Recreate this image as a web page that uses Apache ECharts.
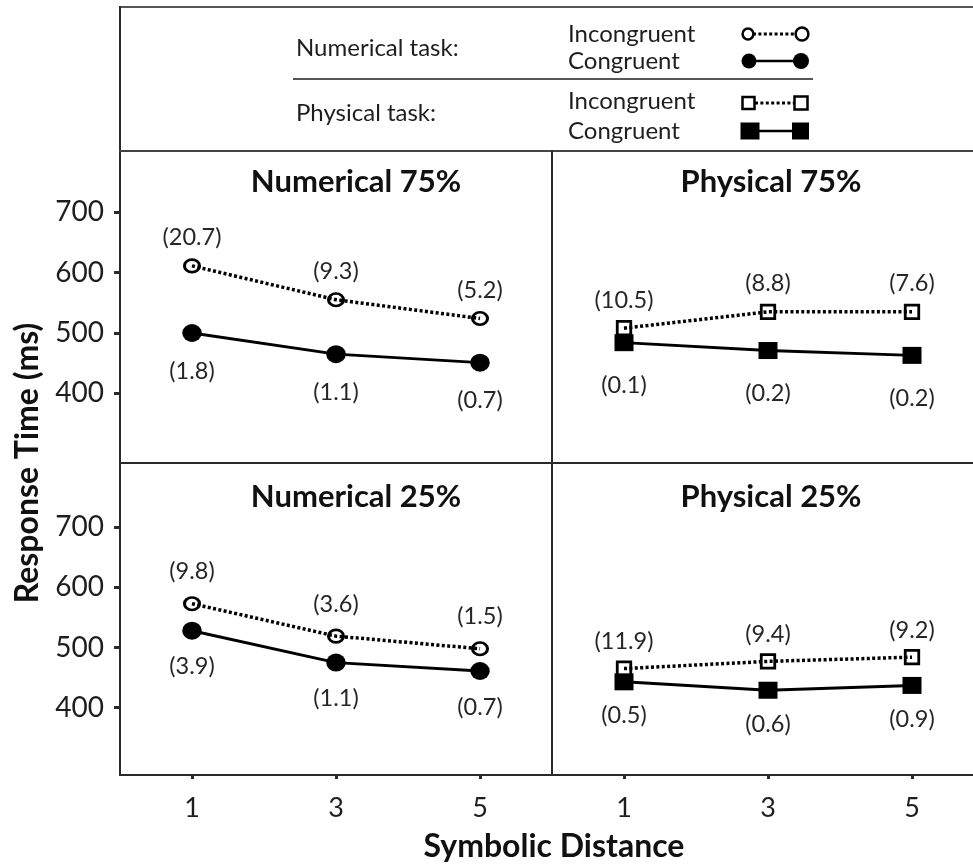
<!DOCTYPE html>
<html>
<head>
<meta charset="utf-8">
<title>Response Time by Symbolic Distance</title>
<script src="https://cdn.jsdelivr.net/npm/echarts@6/dist/echarts.min.js"></script>
<style>
  html, body { margin: 0; padding: 0; background: #fff; }
  #chart { width: 973px; height: 867px; }
</style>
</head>
<body>
<div id="chart"></div>
<script>
// Symbolic distance levels shown on the x axis
const distances = [1, 3, 5];
const xTickValues = [1, 3, 5];
const yTickValues = [400, 500, 600, 700];

// Mean response times (ms) and their values printed in parentheses
const numerical75Incongruent = [611, 555, 524];
const numerical75IncongruentSd = [20.7, 9.3, 5.2];
const numerical75Congruent = [500, 465, 451];
const numerical75CongruentSd = [1.8, 1.1, 0.7];

const physical75Incongruent = [508, 535, 535];
const physical75IncongruentSd = [10.5, 8.8, 7.6];
const physical75Congruent = [484, 471, 463];
const physical75CongruentSd = [0.1, 0.2, 0.2];

const numerical25Incongruent = [573, 519, 498];
const numerical25IncongruentSd = [9.8, 3.6, 1.5];
const numerical25Congruent = [528, 475, 461];
const numerical25CongruentSd = [3.9, 1.1, 0.7];

const physical25Incongruent = [465, 477, 484];
const physical25IncongruentSd = [11.9, 9.4, 9.2];
const physical25Congruent = [443, 429, 437];
const physical25CongruentSd = [0.5, 0.6, 0.9];

const panelTitles = ['Numerical 75%', 'Physical 75%', 'Numerical 25%', 'Physical 25%'];

const FONT = 'Lato, "Open Sans", sans-serif';
const INK = '#1e1e1e';
const FRAME = '#2a2a2a';

const chart = echarts.init(document.getElementById('chart'), null, { renderer: 'canvas' });

// panel layout: two columns, two rows; the right column runs off the page edge
const PANEL_W = 432;
const grids = [
  { left: 120, top: 151, width: PANEL_W, height: 312 },
  { left: 552, top: 151, right: 0, height: 312 },
  { left: 120, top: 463, width: PANEL_W, height: 312 },
  { left: 552, top: 463, right: 0, height: 312 }
].map(g => Object.assign({ show: false, containLabel: false }, g));

// right column keeps the same scale as the left one (0..6 over 432px)
const xMaxes = [6, 6 * (973 - 552) / PANEL_W, 6, 6 * (973 - 552) / PANEL_W];
const yRanges = [[285, 801], [285, 801], [288, 807], [288, 807]];

const xAxes = grids.map((g, i) => {
  const bottom = i >= 2;
  return {
    type: 'value', gridIndex: i, min: 0, max: xMaxes[i],
    show: true,
    axisLine: { show: false },
    splitLine: { show: false },
    axisTick: bottom
      ? { show: true, customValues: xTickValues, length: 4, lineStyle: { color: FRAME, width: 3 } }
      : { show: false },
    axisLabel: bottom
      ? { show: true, customValues: xTickValues, fontSize: 27, color: INK, fontFamily: FONT, margin: 20 }
      : { show: false }
  };
});

const yAxes = grids.map((g, i) => {
  const leftCol = i % 2 === 0;
  return {
    type: 'value', gridIndex: i, min: yRanges[i][0], max: yRanges[i][1],
    show: true,
    axisLine: { show: false },
    splitLine: { show: false },
    axisTick: leftCol
      ? { show: true, customValues: yTickValues, length: 6, lineStyle: { color: FRAME, width: 3 } }
      : { show: false },
    axisLabel: leftCol
      ? { show: true, customValues: yTickValues, fontSize: 28, color: INK, fontFamily: FONT, margin: 16 }
      : { show: false }
  };
});

function pairs(values) {
  return distances.map((d, k) => [d, values[k]]);
}

function makeSeries(panel, values, sd, incongruent, shape, labelDy) {
  const isCircle = shape === 'circle';
  let symbolSize;
  if (incongruent) symbolSize = isCircle ? [15, 12.5] : [13.5, 13.5];
  else symbolSize = isCircle ? [19.5, 18] : [19, 17];
  return {
    type: 'line',
    xAxisIndex: panel, yAxisIndex: panel,
    data: pairs(values),
    symbol: isCircle ? 'circle' : 'rect',
    symbolSize: symbolSize,
    showAllSymbol: true,
    z: incongruent ? 3 : 2,
    lineStyle: incongruent
      ? { color: '#000', width: 3.5, type: [3, 2.4], cap: 'butt' }
      : { color: '#000', width: 2.9 },
    itemStyle: incongruent
      ? { color: 'rgba(255,255,255,0)', borderColor: '#000', borderWidth: 2.8 }
      : { color: '#000', borderWidth: 0 },
    label: {
      show: true,
      position: 'inside',
      offset: [0, labelDy],
      formatter: p => '(' + sd[p.dataIndex].toFixed(1) + ')',
      fontSize: 23.5,
      fontFamily: FONT,
      color: '#262626'
    },
    emphasis: { disabled: true },
    animation: false
  };
}

const series = [
  makeSeries(0, numerical75Incongruent, numerical75IncongruentSd, true, 'circle', -28.5),
  makeSeries(0, numerical75Congruent, numerical75CongruentSd, false, 'circle', 38),
  makeSeries(1, physical75Incongruent, physical75IncongruentSd, true, 'square', -28),
  makeSeries(1, physical75Congruent, physical75CongruentSd, false, 'square', 43),
  makeSeries(2, numerical25Incongruent, numerical25IncongruentSd, true, 'circle', -32),
  makeSeries(2, numerical25Congruent, numerical25CongruentSd, false, 'circle', 36),
  makeSeries(3, physical25Incongruent, physical25IncongruentSd, true, 'square', -27),
  makeSeries(3, physical25Congruent, physical25CongruentSd, false, 'square', 34)
];

// panel headings
const titleCenters = [[356, 182], [771, 182], [356, 497], [771, 497]];
const titleGraphics = panelTitles.map((t, i) => ({
  type: 'text', x: titleCenters[i][0], y: titleCenters[i][1],
  style: { text: t, fontSize: 31, fontWeight: 'bold', fontFamily: FONT, fill: '#111', align: 'center', verticalAlign: 'middle' },
  silent: true
}));

// frame around the key and the four panels (no right edge: it lies past the page)
function frameLine(x1, y1, x2, y2, color) {
  return { type: 'line', shape: { x1: x1, y1: y1, x2: x2, y2: y2 }, style: { stroke: color || FRAME, lineWidth: 2 }, z: 20, silent: true };
}
const frameGraphics = [
  frameLine(119, 7, 990, 7, '#555'),
  frameLine(120, 6, 120, 776),
  frameLine(119, 151, 990, 151, '#444'),
  frameLine(119, 463, 990, 463),
  frameLine(119, 775, 990, 775),
  frameLine(552, 151, 552, 776)
];

// key box at the top
function keyText(text, x, y) {
  return { type: 'text', x: x, y: y, style: { text: text, fontSize: 24, fontFamily: FONT, fill: INK, align: 'left', verticalAlign: 'middle' }, silent: true };
}
function keyLine(x1, x2, y, dotted) {
  return {
    type: 'line', shape: { x1: x1, y1: y, x2: x2, y2: y },
    style: dotted ? { stroke: '#000', lineWidth: 3, lineDash: [3, 2.4] } : { stroke: '#000', lineWidth: 2.6 },
    silent: true
  };
}
function keyCircle(cx, cy, r, filled) {
  return {
    type: 'circle', shape: { cx: cx, cy: cy, r: r },
    style: filled ? { fill: '#000' } : { fill: '#fff', stroke: '#000', lineWidth: 2.5 },
    z: 10, silent: true
  };
}
function keySquare(cx, cy, w, h, filled) {
  return {
    type: 'rect', shape: { x: cx - w / 2, y: cy - h / 2, width: w, height: h },
    style: filled ? { fill: '#000' } : { fill: '#fff', stroke: '#000', lineWidth: 2.5 },
    z: 10, silent: true
  };
}

const keyGraphics = [
  keyText('Numerical task:', 296, 48),
  keyText('Incongruent', 568, 34),
  keyText('Congruent', 568, 61),
  { type: 'line', shape: { x1: 293, y1: 79, x2: 813, y2: 79 }, style: { stroke: '#555', lineWidth: 2 }, silent: true },
  keyText('Physical task:', 296, 113),
  keyText('Incongruent', 568, 101),
  keyText('Congruent', 568, 131),

  keyLine(753, 796, 34, true),
  keyCircle(748, 34, 5.4, false),
  keyCircle(802, 34, 6.4, false),

  keyLine(750, 800, 61, false),
  keyCircle(749, 61, 7.5, true),
  keyCircle(801, 61, 8, true),

  keyLine(755, 794, 103, true),
  keySquare(748.5, 103, 12, 12, false),
  keySquare(801, 103, 13, 13, false),

  keyLine(758, 793, 131, false),
  keySquare(750, 131, 19, 17, true),
  keySquare(800.5, 131, 17, 17, true)
];

// shared axis titles
const axisNameGraphics = [
  {
    type: 'text', x: 28, y: 463, rotation: Math.PI / 2,
    style: { text: 'Response Time (ms)', fontSize: 32, fontWeight: 'bold', fontFamily: FONT, fill: '#111', align: 'center', verticalAlign: 'middle' },
    silent: true
  },
  {
    type: 'text', x: 554, y: 847,
    style: { text: 'Symbolic Distance', fontSize: 32, fontWeight: 'bold', fontFamily: FONT, fill: '#111', align: 'center', verticalAlign: 'middle' },
    silent: true
  }
];

chart.setOption({
  backgroundColor: '#fff',
  animation: false,
  grid: grids,
  xAxis: xAxes,
  yAxis: yAxes,
  series: series,
  graphic: { elements: frameGraphics.concat(keyGraphics, titleGraphics, axisNameGraphics) }
});
</script>
</body>
</html>
